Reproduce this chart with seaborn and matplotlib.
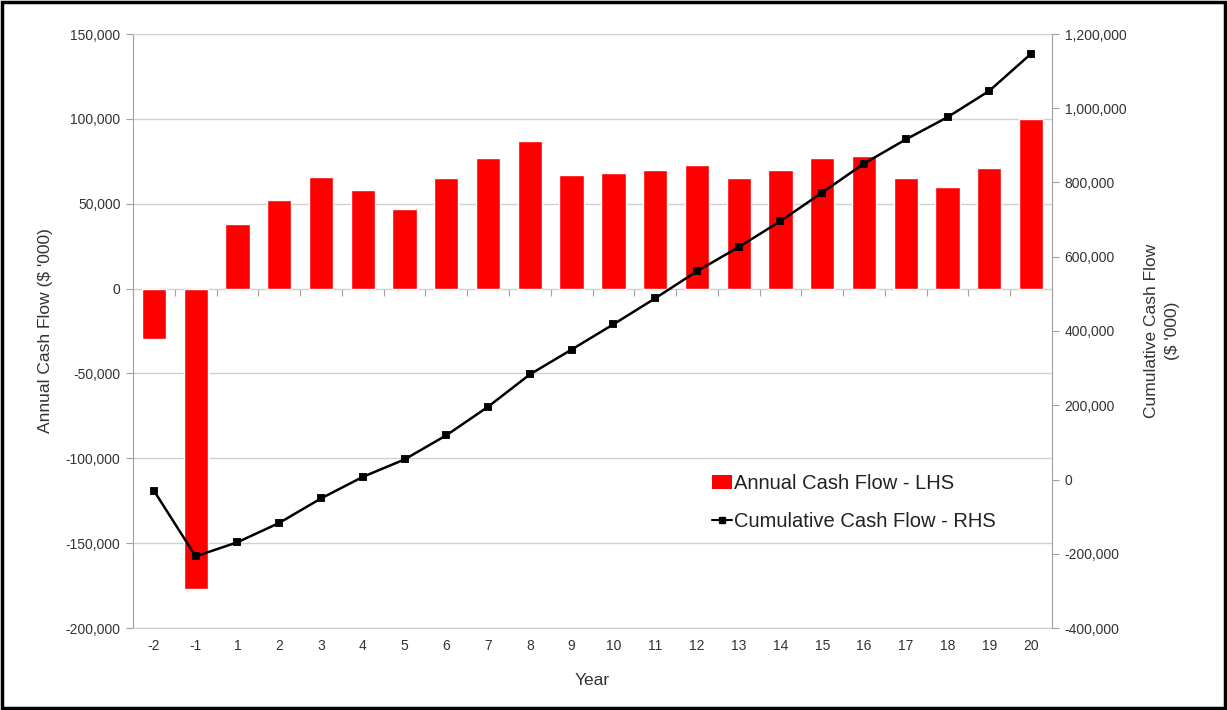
import matplotlib
matplotlib.use("Agg")
import matplotlib.pyplot as plt
import seaborn as sns
import numpy as np
from matplotlib.ticker import FuncFormatter, FixedLocator, NullFormatter
from matplotlib.patches import Rectangle, Patch
from matplotlib.lines import Line2D

years = ["-2", "-1"] + [str(i) for i in range(1, 21)]
annual = [-30000, -177000, 38000, 52000, 66000, 58000, 47000, 65000, 77000, 87000,
          67000, 68000, 70000, 73000, 65000, 70000, 77000, 78000, 65000, 60000, 71000, 100000]
cumulative = [-30000, -207000, -169000, -117000, -51000, 7000, 54000, 119000, 196000, 283000,
              350000, 418000, 488000, 561000, 626000, 696000, 773000, 851000, 916000, 976000,
              1047000, 1147000]
left_ticks = [-200000, -150000, -100000, -50000, 0, 50000, 100000, 150000]
right_ticks = [-400000, -200000, 0, 200000, 400000, 600000, 800000, 1000000, 1200000]

sns.set_style("white")
plt.rcParams['font.family'] = ['Liberation Sans', 'DejaVu Sans']
txt = '#333333'
grid_c = '#d0d0d0'
spine_c = '#a0a0a0'

fig = plt.figure(figsize=(12.27, 7.10), dpi=100)
ax = fig.add_axes([133/1227, 82/710, (1052-133)/1227, (628-34)/710])

sns.barplot(x=years, y=annual, order=years, color='#ff0000', saturation=1, width=0.58, ax=ax, zorder=2)
ax.set_ylim(-200000, 150000)
ax.set_xlim(-0.5, len(years) - 0.5)
ax.yaxis.set_major_locator(FixedLocator(left_ticks))
fmt = FuncFormatter(lambda v, p: f"{int(v):,}")
ax.yaxis.set_major_formatter(fmt)
ax.grid(axis='y', color=grid_c, lw=1, zorder=0)
ax.set_axisbelow(True)
for s in ['top', 'bottom']:
    ax.spines[s].set_color(grid_c)
ax.spines['left'].set_color(spine_c)
ax.spines['right'].set_visible(False)
ax.tick_params(axis='y', direction='out', length=5, color=spine_c, labelsize=10, labelcolor=txt, pad=4, left=True)
ax.tick_params(axis='x', length=0, labelsize=10, labelcolor=txt, pad=8)
ax.set_xlabel("Year", fontsize=12.5, color=txt, labelpad=14)
ax.set_ylabel("Annual Cash Flow ($ '000)", fontsize=12.5, color=txt, labelpad=9)

# zero line with category boundary ticks
ylo, yhi = ax.get_ylim()
zero_pos = (0 - ylo) / (yhi - ylo)
sec = ax.secondary_xaxis(zero_pos)
sec.spines['bottom'].set_color(spine_c)
sec.spines['top'].set_visible(False)
sec.xaxis.set_ticks_position('bottom')
sec.set_xticks(np.arange(-0.5, len(years), 1.0))
sec.xaxis.set_major_formatter(NullFormatter())
sec.tick_params(direction='out', length=5, color=spine_c, labelbottom=False, labeltop=False)

ax2 = ax.twinx()
sns.pointplot(x=years, y=cumulative, order=years, color='black', markers='s',
              markersize=5, linewidth=1.8, ax=ax2)
ax2.set_ylim(-400000, 1200000)
ax2.yaxis.set_major_locator(FixedLocator(right_ticks))
ax2.yaxis.set_major_formatter(fmt)
for s in ['top', 'bottom', 'left']:
    ax2.spines[s].set_visible(False)
ax2.spines['right'].set_color(spine_c)
ax2.tick_params(axis='y', direction='out', length=5, color=spine_c, labelsize=10, labelcolor=txt, pad=4, right=True)
ax2.set_ylabel("Cumulative Cash Flow\n($ '000)", fontsize=12.5, color=txt, labelpad=13,
               rotation=90, linespacing=1.5)
ax2.set_xlabel("")

handles = [Patch(facecolor='#ff0000', edgecolor='none'),
           Line2D([0], [0], color='black', lw=1.5, marker='s', markersize=4)]
leg = ax2.legend(handles, ["Annual Cash Flow - LHS", "Cumulative Cash Flow - RHS"],
                 loc='upper left', bbox_to_anchor=(0.61, 0.290), frameon=False,
                 fontsize=14.5, handlelength=1.0, handletextpad=0.1, labelspacing=0.95)
for t in leg.get_texts():
    t.set_color('#222222')

fig.patches.append(Rectangle((0.002, 0.003), 0.996, 0.994, transform=fig.transFigure,
                             fill=False, edgecolor='black', lw=2.5))

fig.savefig("out.png", dpi=100)
